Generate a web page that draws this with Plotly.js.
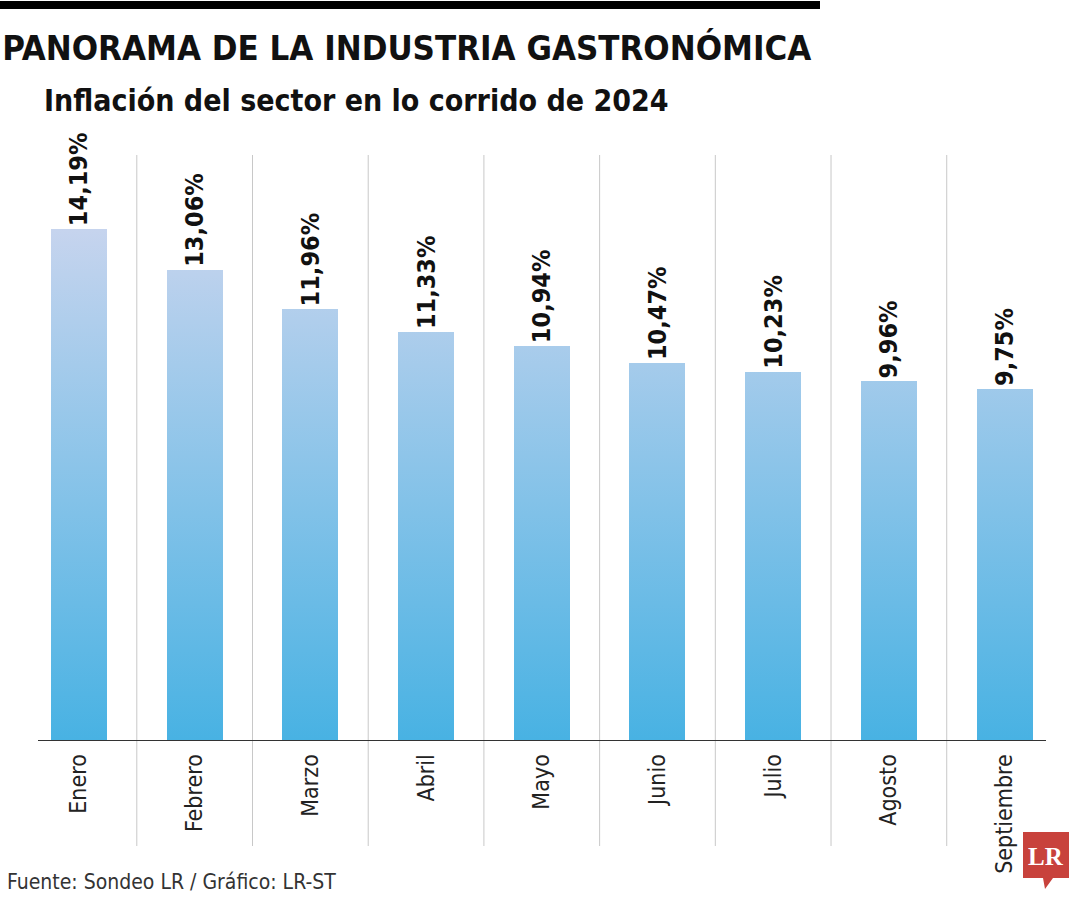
<!DOCTYPE html>
<html>
<head>
<meta charset="utf-8">
<script src="https://cdn.plot.ly/plotly-3.0.1.min.js"></script>
<style>
  html, body { margin: 0; padding: 0; background: #ffffff; }
  #chart { width: 1080px; height: 900px; }
</style>
</head>
<body>
<div id="chart"></div>
<script>
// ---- Data ----
var months = ["Enero", "Febrero", "Marzo", "Abril", "Mayo", "Junio", "Julio", "Agosto", "Septiembre"];
var inflation = [14.19, 13.06, 11.96, 11.33, 10.94, 10.47, 10.23, 9.96, 9.75];
var valueLabels = ["14,19%", "13,06%", "11,96%", "11,33%", "10,94%", "10,47%", "10,23%", "9,96%", "9,75%"];

var titleText = "PANORAMA DE LA INDUSTRIA GASTRONÓMICA";
var subtitleText = "Inflación del sector en lo corrido de 2024";
var sourceText = "Fuente: Sondeo LR / Gráfico: LR-ST";

// ---- Layout geometry helpers (pixels -> paper) ----
var W = 1080, H = 900;
var ML = 38, MR = 34, MT = 130, MB = 160;
var PW = W - ML - MR, PH = H - MT - MB;
function px(x) { return (x - ML) / PW; }
function py(y) { return (H - MB - y) / PH; }

var condFont = "'DejaVu Sans Condensed', 'Liberation Sans Narrow', Arial, sans-serif";

var trace = {
  type: "bar",
  x: months,
  y: inflation,
  width: 0.484,
  text: valueLabels,
  textposition: "outside",
  textangle: -90,
  constraintext: "none",
  cliponaxis: false,
  textfont: { family: condFont, size: 25, color: "#111111", weight: 700 },
  marker: { color: "#8cc3ea", line: { width: 0 } },
  hoverinfo: "none"
};

var shapes = [];
// vertical separators
for (var i = 0; i < months.length - 1; i++) {
  shapes.push({
    type: "line", xref: "x", yref: "paper",
    x0: i + 0.5, x1: i + 0.5, y0: py(846), y1: py(155),
    line: { color: "#c8c8c8", width: 1 }, layer: "below"
  });
}
// top black rule
shapes.push({
  type: "rect", xref: "paper", yref: "paper",
  x0: px(0), x1: px(820), y0: py(9), y1: py(1),
  fillcolor: "#000000", line: { width: 0 }
});
// LR logo bubble
var lrPath = "M " + px(1023) + "," + py(832) +
  " L " + px(1069) + "," + py(832) +
  " L " + px(1069) + "," + py(878) +
  " L " + px(1053) + "," + py(878) +
  " L " + px(1045) + "," + py(889) +
  " L " + px(1043) + "," + py(878) +
  " L " + px(1023) + "," + py(878) + " Z";
shapes.push({
  type: "path", xref: "paper", yref: "paper", path: lrPath,
  fillcolor: "#c8423c", line: { width: 0 }
});

var annotations = [
  {
    text: subtitleText, xref: "paper", yref: "paper",
    x: px(42), y: py(101), xanchor: "left", yanchor: "middle",
    showarrow: false,
    font: { family: condFont, size: 30, color: "#111111", weight: 700 }
  },
  {
    text: sourceText, xref: "paper", yref: "paper",
    x: px(5), y: py(882), xanchor: "left", yanchor: "middle",
    showarrow: false,
    font: { family: condFont, size: 21, color: "#333333" }
  },
  {
    text: "LR", xref: "paper", yref: "paper",
    x: px(1046), y: py(856), xanchor: "center", yanchor: "middle",
    showarrow: false,
    font: { family: "'Liberation Serif', 'DejaVu Serif', serif", size: 25, color: "#ffffff", weight: 700 }
  }
];

var layout = {
  width: W, height: H,
  margin: { l: ML, r: MR, t: MT, b: MB, pad: 0 },
  paper_bgcolor: "#ffffff",
  plot_bgcolor: "rgba(0,0,0,0)",
  showlegend: false,
  title: {
    text: "<b>" + titleText + "</b>",
    xref: "container", yref: "container",
    x: 0.002, xanchor: "left",
    y: 1 - 48 / H, yanchor: "middle",
    font: { family: condFont, size: 34.5, color: "#111111" }
  },
  xaxis: {
    type: "category",
    range: [-0.354, 8.358],
    showgrid: false, zeroline: false,
    showline: true, linecolor: "#333333", linewidth: 1,
    ticks: "", tickangle: -90, ticklabelstandoff: 4,
    tickfont: { family: condFont, size: 23, color: "#222222" },
    fixedrange: true
  },
  yaxis: {
    range: [0, PH / 36.0],
    visible: false, showgrid: false, zeroline: false,
    fixedrange: true
  },
  shapes: shapes,
  annotations: annotations,
  bargap: 0
};

var gd = document.getElementById("chart");
Plotly.newPlot(gd, [trace], layout, { displayModeBar: false, staticPlot: true }).then(function () {
  // apply vertical gradient fill to bars (absolute position, lighter at top)
  var svg = gd.querySelector(".main-svg");
  var ns = "http://www.w3.org/2000/svg";
  var defs = svg.querySelector("defs") || svg.insertBefore(document.createElementNS(ns, "defs"), svg.firstChild);
  var ya = gd._fullLayout.yaxis;
  var maxV = Math.max.apply(null, inflation);
  var grad = document.createElementNS(ns, "linearGradient");
  grad.setAttribute("id", "barGrad");
  grad.setAttribute("gradientUnits", "userSpaceOnUse");
  grad.setAttribute("x1", "0"); grad.setAttribute("x2", "0");
  grad.setAttribute("y1", String(ya.l2p(maxV)));
  grad.setAttribute("y2", String(ya.l2p(0)));
  var s1 = document.createElementNS(ns, "stop");
  s1.setAttribute("offset", "0"); s1.setAttribute("stop-color", "#c6d4ee");
  var s2 = document.createElementNS(ns, "stop");
  s2.setAttribute("offset", "1"); s2.setAttribute("stop-color", "#48b2e3");
  grad.appendChild(s1); grad.appendChild(s2);
  defs.appendChild(grad);
  gd.querySelectorAll(".barlayer .point path").forEach(function (p) {
    p.style.fill = "url(#barGrad)";
  });
});
</script>
</body>
</html>
